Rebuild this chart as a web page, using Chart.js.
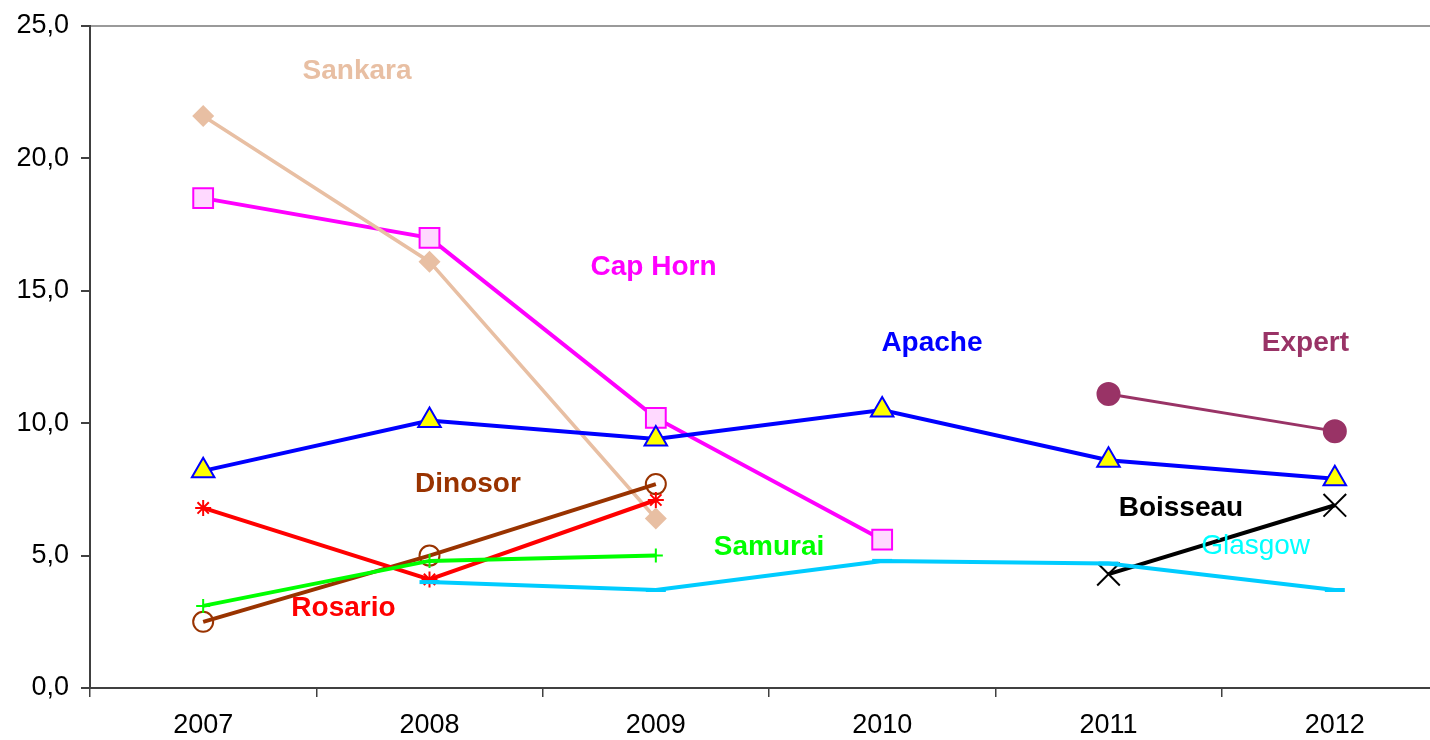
<!DOCTYPE html>
<html>
<head>
<meta charset="utf-8">
<script src="https://cdn.jsdelivr.net/npm/chart.js@4.4.1/dist/chart.umd.min.js"></script>
<style>
  html, body { margin: 0; padding: 0; background: #fff; overflow: hidden; }
  canvas { display: block; }
</style>
</head>
<body>
<canvas id="chart" width="1430" height="740"></canvas>
<script>
// categories + values
const years = ['2007', '2008', '2009', '2010', '2011', '2012'];
const yTicks = [0, 5, 10, 15, 20, 25];

const sankara  = [21.6, 16.1, 6.4, null, null, null];
const capHorn  = [18.5, 17.0, 10.2, 5.6, null, null];
const apache   = [8.2, 10.1, 9.4, 10.5, 8.6, 7.9];
const expert   = [null, null, null, null, 11.1, 9.7];
const dinosor  = [2.5, 5.0, 7.7, null, null, null];
const rosario  = [6.8, 4.1, 7.1, null, null, null];
const samurai  = [3.1, 4.8, 5.0, null, null, null];
const glasgow  = [null, 4.0, 3.7, 4.8, 4.7, 3.7];
const boisseau = [null, null, null, null, 4.3, 6.9];

const FONT = "'Liberation Sans', Arial, sans-serif";

// series labels drawn inside the plot (category index, value)
const seriesLabels = [
  { text: 'Sankara',  at: [0.68, 23.3], color: '#e8bfa3', bold: true },
  { text: 'Cap Horn', at: [1.99, 15.9], color: '#ff00ff', bold: true },
  { text: 'Apache',   at: [3.22, 13.0], color: '#0000ff', bold: true },
  { text: 'Expert',   at: [4.87, 13.0], color: '#993366', bold: true },
  { text: 'Dinosor',  at: [1.17, 7.7],  color: '#993300', bold: true },
  { text: 'Boisseau', at: [4.32, 6.8],  color: '#000000', bold: true },
  { text: 'Samurai',  at: [2.5, 5.3],   color: '#00ff00', bold: true },
  { text: 'Glasgow',  at: [4.65, 5.35], color: '#00ffff', bold: false },
  { text: 'Rosario',  at: [0.62, 3.0],  color: '#ff0000', bold: true }
];

const labelPlugin = {
  id: 'seriesLabels',
  afterDatasetsDraw(chart) {
    const { ctx, scales: { x, y } } = chart;
    ctx.save();
    ctx.textAlign = 'center';
    ctx.textBaseline = 'middle';
    seriesLabels.forEach(l => {
      ctx.font = (l.bold ? 'bold ' : '') + '28px ' + FONT;
      ctx.fillStyle = l.color;
      ctx.fillText(l.text, x.getPixelForValue(l.at[0]), y.getPixelForValue(l.at[1]));
    });
    ctx.restore();
  }
};

// the original plot area runs ~18px past the right edge of the picture
const overhang = 18;
const stretchPlugin = {
  id: 'stretch',
  afterLayout(chart) {
    const x = chart.scales.x;
    const right = chart.width + overhang;
    x.width += right - x.right;
    x.right = right;
    x.configure();
    chart.chartArea.width += right - chart.chartArea.right;
    chart.chartArea.right = right;
  }
};

function line(label, data, color, extra) {
  return Object.assign({
    label, data,
    borderColor: color,
    backgroundColor: color,
    borderWidth: 4,
    pointBorderColor: color,
    pointBackgroundColor: color,
    pointBorderWidth: 2,
    tension: 0,
    spanGaps: false
  }, extra);
}

new Chart(document.getElementById('chart'), {
  type: 'line',
  data: {
    labels: years,
    datasets: [
      line('Glasgow', glasgow, '#00ccff', { pointStyle: 'line', pointRadius: 10, pointBorderWidth: 4 }),
      line('Samurai', samurai, '#00ff00', { pointStyle: 'cross', pointRadius: 7 }),
      line('Rosario', rosario, '#ff0000', { pointStyle: 'star', pointRadius: 8 }),
      line('Dinosor', dinosor, '#993300', { pointStyle: 'circle', pointRadius: 10, pointBackgroundColor: 'rgba(0,0,0,0)' }),
      line('Boisseau', boisseau, '#000000', { pointStyle: 'crossRot', pointRadius: 16 }),
      line('Expert', expert, '#993366', { pointStyle: 'circle', pointRadius: 11, borderWidth: 3 }),
      line('Apache', apache, '#0000ff', { pointStyle: 'triangle', pointRadius: 13, pointBackgroundColor: '#ffff00' }),
      line('Sankara', sankara, '#e8bfa3', { pointStyle: 'rectRot', pointRadius: 11, pointBorderWidth: 0, borderWidth: 3.5 }),
      line('Cap Horn', capHorn, '#ff00ff', { pointStyle: 'rect', pointRadius: 14, pointBackgroundColor: '#ffd9ff' })
    ]
  },
  options: {
    responsive: false,
    animation: false,
    layout: { padding: { top: 26, right: 0, left: 0, bottom: 0 } },
    plugins: { legend: { display: false }, tooltip: { enabled: false } },
    scales: {
      x: {
        type: 'category',
        offset: true,
        grid: { offset: true, color: 'rgba(0,0,0,0)', tickColor: '#404040', tickLength: 9, lineWidth: 1.5 },
        border: { display: true, color: '#404040', width: 2 },
        ticks: { color: '#000', padding: 12, font: { family: FONT, size: 27 } },
        afterFit: s => { s.height = 52; }
      },
      y: {
        min: 0,
        max: 25,
        afterBuildTicks: s => { s.ticks = yTicks.map(v => ({ value: v })); },
        grid: {
          color: c => c.tick && c.tick.value === 25 ? '#9a9a9a' : 'rgba(0,0,0,0)',
          tickColor: '#404040',
          tickLength: 9,
          lineWidth: 2
        },
        border: { display: true, color: '#404040', width: 2 },
        ticks: {
          color: '#000',
          padding: 12,
          font: { family: FONT, size: 27, lineHeight: 1 },
          callback: v => v.toFixed(1).replace('.', ',')
        },
        afterFit: s => { s.width = 90; }
      }
    }
  },
  plugins: [stretchPlugin, labelPlugin]
});
</script>
</body>
</html>
